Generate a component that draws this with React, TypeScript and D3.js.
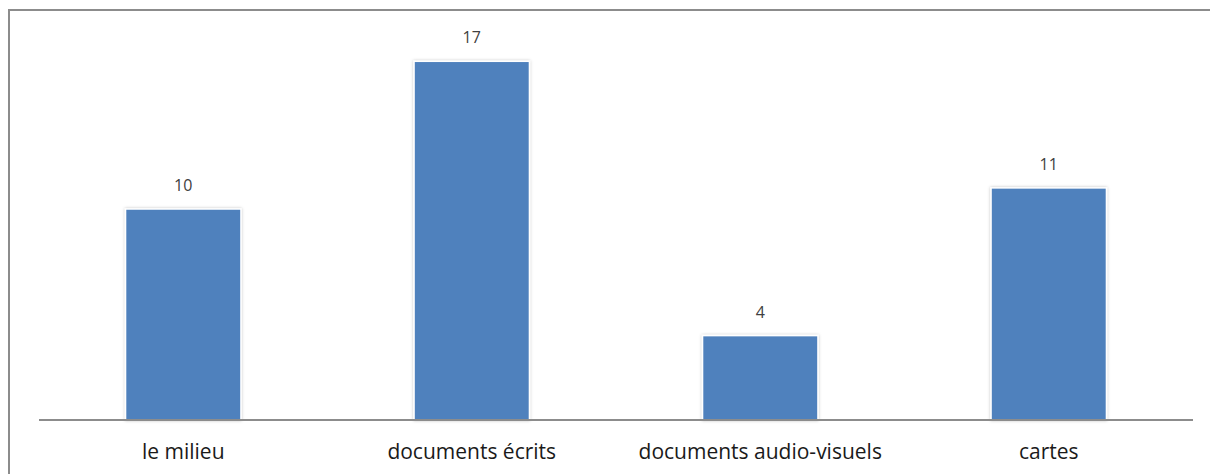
import React from "react";
import * as d3 from "d3";

const categories: string[] = ["le milieu", "documents écrits", "documents audio-visuels", "cartes"];
const values: number[] = [10, 17, 4, 11];

const W = 1210;
const H = 474;
const x0 = 39;
const x1 = 1193;
const baseY = 420;
const pxPerUnit = 21.1;

export default function App() {
  const x = d3.scaleBand<string>().domain(categories).range([x0, x1]).paddingInner(0.6).paddingOuter(0.3);
  const y = d3.scaleLinear().domain([0, 20]).range([baseY, baseY - 20 * pxPerUnit]);
  const font = "'Open Sans', sans-serif";
  return (
    <svg width={W} height={H} style={{ position: "absolute", left: 0, top: 0, background: "#fff" }}>
      <defs>
        <filter id="sh" x="-10%" y="-10%" width="120%" height="120%">
          <feDropShadow dx="0" dy="0" stdDeviation="1.5" floodColor="#000" floodOpacity="0.25" />
        </filter>
      </defs>
      <rect x={9} y={10} width={W + 20} height={H + 20} fill="none" stroke="#8c8c8c" strokeWidth={2} />
      {categories.map((c, i) => {
        const bx = x(c)!;
        const bw = x.bandwidth();
        const top = y(values[i]);
        return (
          <g key={c}>
            <rect x={bx} y={top} width={bw} height={baseY - top} fill="#4F81BD" stroke="#fff" strokeWidth={1.5} filter="url(#sh)" />
            <text x={bx + bw / 2} y={top - 18} textAnchor="middle" fontFamily={font} fontSize={16} fill="#404040">
              {values[i]}
            </text>
            <text x={bx + bw / 2} y={459} textAnchor="middle" fontFamily={font} fontSize={21} fill="#1a1a1a">
              {c}
            </text>
          </g>
        );
      })}
      <line x1={x0} x2={x1} y1={baseY} y2={baseY} stroke="#8c8c8c" strokeWidth={2} />
    </svg>
  );
}
